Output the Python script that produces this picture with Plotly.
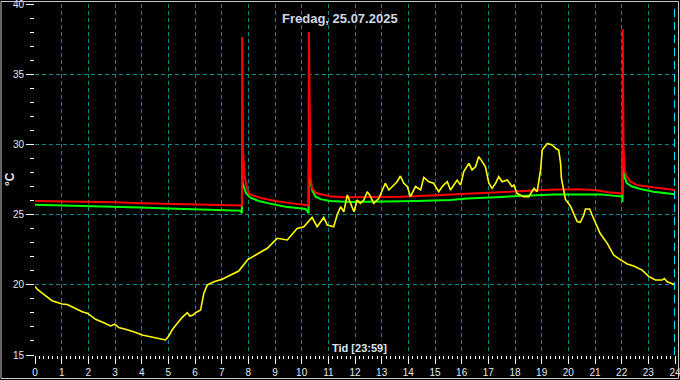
import plotly.graph_objects as go

# ---- data (hours of day, °C) ----
yellow_t = [0.00, 0.09, 0.33, 0.64, 1.02, 1.21, 1.46, 1.77, 1.98, 2.27, 2.58, 2.83, 2.99, 3.14,
            3.39, 3.70, 4.02, 4.33, 4.64, 4.89, 5.02, 5.14, 5.33, 5.52, 5.71, 5.81, 5.93, 6.02,
            6.21, 6.33, 6.46, 6.71, 7.02, 7.33, 7.64, 7.98, 8.35, 8.71, 9.08, 9.46, 9.83, 10.08,
            10.39, 10.58, 10.83, 10.96, 11.20, 11.33, 11.46, 11.58, 11.71, 11.83, 11.96, 12.08,
            12.20, 12.33, 12.46, 12.58, 12.70, 12.89, 13.02, 13.14, 13.27, 13.39, 13.58, 13.70,
            13.83, 13.96, 14.08, 14.27, 14.46, 14.58, 14.77, 14.95, 15.14, 15.27, 15.46, 15.58,
            15.83, 15.96, 16.08, 16.27, 16.39, 16.52, 16.64, 16.77, 16.89, 17.02, 17.14, 17.27,
            17.39, 17.52, 17.71, 17.89, 17.96, 18.08, 18.20, 18.33, 18.52, 18.58, 18.71, 18.83,
            18.96, 19.02, 19.21, 19.39, 19.52, 19.64, 19.71, 19.74, 19.89, 20.08, 20.20, 20.33,
            20.45, 20.58, 20.64, 20.80, 20.89, 21.02, 21.19, 21.46, 21.70, 21.96, 22.21, 22.45,
            22.77, 23.02, 23.27, 23.52, 23.60, 23.71, 24.00]
yellow_v = [19.87, 19.68, 19.32, 18.87, 18.63, 18.60, 18.37, 18.08, 17.96, 17.54, 17.30, 17.07, 17.19, 16.95,
            16.83, 16.66, 16.42, 16.30, 16.19, 16.07, 16.35, 16.78, 17.25, 17.68, 18.01, 17.78, 17.85, 18.01,
            18.20, 19.39, 19.99, 20.22, 20.39, 20.70, 20.98, 21.80, 22.20, 22.60, 23.31, 23.19, 24.02, 24.14,
            24.80, 24.14, 24.80, 24.26, 24.14, 24.97, 25.56, 25.20, 26.40, 25.80, 25.20, 26.04,
            25.80, 26.04, 26.63, 26.30, 25.80, 26.15, 26.75, 27.23, 26.75, 27.00, 27.34, 27.75,
            27.23, 27.00, 26.28, 27.00, 26.75, 27.65, 27.34, 27.23, 26.63, 27.00, 27.34, 26.75,
            27.46, 27.10, 28.06, 28.65, 28.18, 28.40, 29.13, 28.77, 28.40, 27.23, 26.87, 27.23,
            27.70, 27.34, 27.46, 27.00, 27.10, 26.50, 26.40, 26.28, 26.28, 26.50, 26.87, 26.63,
            28.18, 29.60, 30.07, 29.96, 29.72, 29.60, 28.65, 27.60, 26.10, 25.60, 25.09, 24.50,
            24.45, 24.97, 25.40, 25.40, 24.97, 24.38, 23.67, 22.95, 22.12, 21.77, 21.48, 21.34,
            21.05, 20.58, 20.34, 20.34, 20.45, 20.22, 19.99]

red_t = [0.0, 1.0, 2.0, 3.0, 4.0, 5.0, 6.0, 7.0, 7.76, 7.77, 7.78, 7.80, 7.86, 7.92, 8.02, 8.20,
         8.52, 9.02, 9.64, 10.20, 10.26, 10.27, 10.28, 10.30, 10.33, 10.39, 10.52, 10.71, 11.08,
         11.60, 12.50, 13.70, 15.00, 15.50, 16.50, 17.50, 18.50, 19.50, 20.30, 21.00, 21.50,
         22.03, 22.04, 22.05, 22.07, 22.12, 22.20, 22.33, 22.58, 22.96, 23.46, 24.00]
red_v = [25.97, 25.95, 25.92, 25.88, 25.80, 25.75, 25.72, 25.68, 25.65, 37.65, 35.65, 29.60, 27.80, 27.10, 26.50, 26.35,
         26.16, 25.97, 25.80, 25.68, 25.66, 38.00, 35.65, 29.00, 27.70, 26.87, 26.56, 26.45, 26.30,
         26.23, 26.23, 26.28, 26.37, 26.42, 26.50, 26.60, 26.70, 26.78, 26.80, 26.75, 26.60,
         26.50, 38.20, 32.80, 29.80, 28.06, 27.70, 27.34, 27.10, 27.00, 26.87, 26.75]

green_t = [0.0, 1.0, 2.0, 3.2, 3.96, 5.0, 5.8, 7.0, 7.70, 7.76, 7.77, 7.78, 7.83, 7.92, 8.08, 8.39,
           8.77, 9.40, 10.15, 10.26, 10.27, 10.30, 10.39, 10.52, 10.71, 11.08, 11.83, 13.08, 14.33,
           15.58, 16.20, 17.08, 18.33, 19.46, 21.20, 21.46, 22.02, 22.03, 22.04, 22.10, 22.20,
           22.39, 22.70, 23.20, 23.70, 24.00]
green_v = [25.70, 25.66, 25.60, 25.56, 25.50, 25.43, 25.38, 25.32, 25.28, 25.10, 28.50, 27.30, 27.00, 26.50, 26.20, 25.97,
           25.80, 25.56, 25.40, 25.10, 28.50, 27.80, 26.75, 26.28, 26.10, 25.97, 25.90, 25.92, 25.97,
           26.04, 26.15, 26.22, 26.35, 26.44, 26.44, 26.40, 26.28, 25.90, 29.37, 27.70, 27.23,
           27.00, 26.82, 26.63, 26.50, 26.44]

x_ticks = list(range(0, 25))
y_ticks = [15, 20, 25, 30, 35, 40]
title_text = "Fredag, 25.07.2025"
x_title = "Tid [23:59]"
y_title = "°C"

# ---- layout geometry (pixels) ----
W, H = 680, 380
ML, MR, MT, MB = 35, 5, 4, 25
PW, PH = W - ML - MR, H - MT - MB

def px2paper_x(px):
    return (px - ML) / PW

def py2paper_y(py):
    return (H - MB - py) / PH

grid_col = "#008b8b"
txt_col = "#e4e8f0"

fig = go.Figure()
fig.add_trace(go.Scatter(x=green_t, y=green_v, mode="lines",
                         line=dict(color="#00ff00", width=2), hoverinfo="skip"))
fig.add_trace(go.Scatter(x=red_t, y=red_v, mode="lines",
                         line=dict(color="#ff0000", width=2), hoverinfo="skip"))
fig.add_trace(go.Scatter(x=yellow_t, y=yellow_v, mode="lines",
                         line=dict(color="#ffff00", width=1.6), hoverinfo="skip"))

fig.update_layout(
    width=W, height=H, autosize=False,
    margin=dict(l=ML, r=MR, t=MT, b=MB, pad=0, autoexpand=False),
    paper_bgcolor="black", plot_bgcolor="black",
    showlegend=False,
    font=dict(family="Liberation Sans, Arial", color=txt_col, size=10),
    xaxis=dict(range=[0, 24], tickvals=x_ticks, ticktext=[str(v) for v in x_ticks],
               ticks="outside", ticklen=8, tickwidth=1, tickcolor="#ffffff",
               minor=dict(dtick=1 / 6, ticks="outside", ticklen=3, tickcolor="#ffffff",
                          tickwidth=1, showgrid=False),
               showgrid=True, gridcolor=grid_col, griddash="4px,3px", gridwidth=1,
               zeroline=False, showline=False, fixedrange=True, automargin=False,
               ticklabeloverflow="allow",
               tickfont=dict(size=10, color=txt_col)),
    yaxis=dict(range=[15, 40], tickvals=y_ticks,
               ticks="outside", ticklen=8, tickwidth=1, tickcolor="#ffffff",
               minor=dict(dtick=1, ticks="outside", ticklen=4, tickcolor="#ffffff",
                          tickwidth=1, showgrid=False),
               showgrid=True, gridcolor=grid_col, griddash="4px,3px", gridwidth=1,
               zeroline=False, showline=False, fixedrange=True, automargin=False,
               ticklabeloverflow="allow",
               tickfont=dict(size=10, color=txt_col)),
)

# current-time marker at the right edge
fig.add_shape(type="line", xref="x", yref="paper", x0=x_ticks[-1], x1=x_ticks[-1], y0=0, y1=1,
              line=dict(color="#00e5ff", width=2, dash="8px,5px"))
# outer frame
fig.add_shape(type="rect", xref="paper", yref="paper",
              x0=px2paper_x(1), x1=px2paper_x(678.5), y0=py2paper_y(378.5), y1=py2paper_y(1.5),
              line=dict(color="#c8c8c8", width=1), fillcolor="rgba(0,0,0,0)")

fig.add_annotation(text=f"<b>{title_text}</b>", xref="paper", yref="paper",
                   x=px2paper_x(340), y=py2paper_y(18), showarrow=False,
                   xanchor="center", yanchor="middle",
                   font=dict(size=13, color="#d0d8e8", family="Liberation Sans, Arial"))
fig.add_annotation(text=f"<b>{x_title}</b>", xref="paper", yref="paper",
                   x=px2paper_x(359), y=py2paper_y(348), showarrow=False,
                   xanchor="center", yanchor="middle", bgcolor="black",
                   font=dict(size=11, color="#dde4f0", family="Liberation Sans, Arial"))
fig.add_annotation(text=f"<b>{y_title}</b>", xref="paper", yref="paper",
                   x=px2paper_x(10), y=py2paper_y(179), showarrow=False, textangle=-90,
                   xanchor="center", yanchor="middle",
                   font=dict(size=12, color="#dde4f0", family="Liberation Sans, Arial"))

fig.write_html("out.html", config=dict(displayModeBar=False))
